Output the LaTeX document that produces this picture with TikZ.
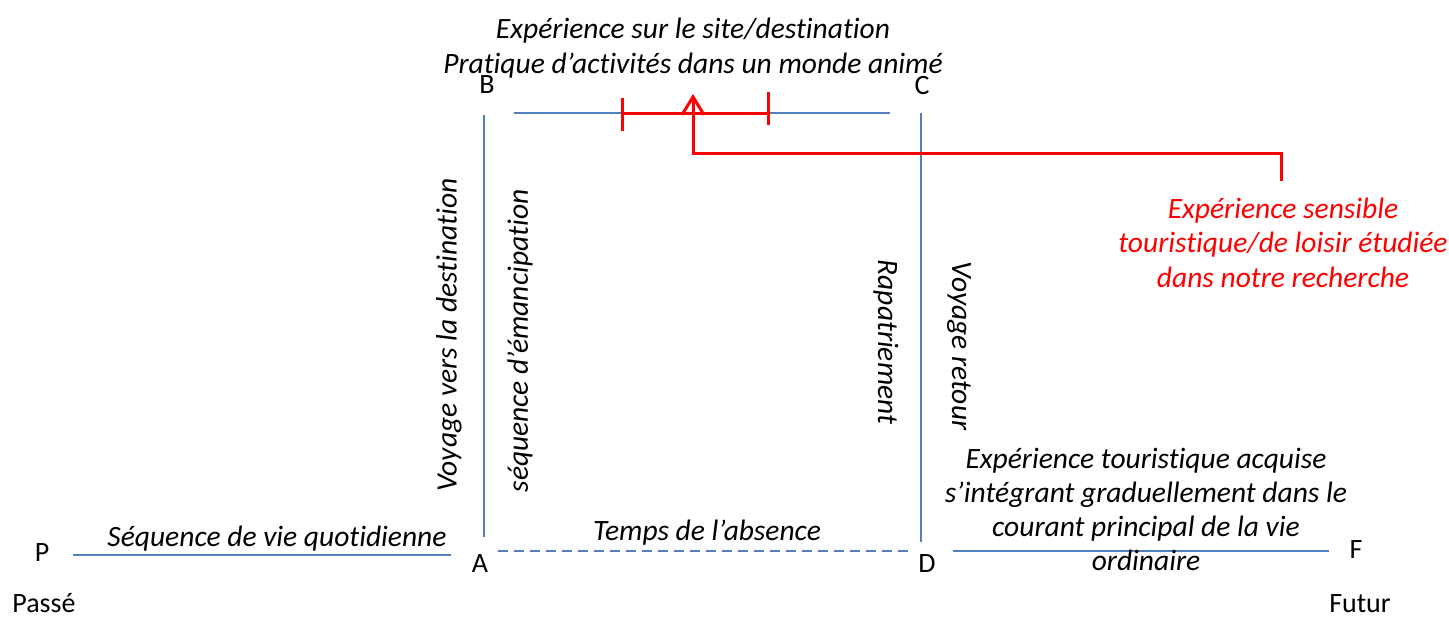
\documentclass[tikz,border=0pt]{standalone}
\usepackage{fontspec}
\setmainfont{Carlito}[Ligatures=NoCommon]
\usetikzlibrary{arrows.meta}
\definecolor{axisblue}{RGB}{79,129,189}
\definecolor{markred}{RGB}{255,0,0}
\tikzset{
  axis/.style={draw=axisblue, line width=2pt},
  lbl/.style={font=\fontsize{28}{34}\selectfont, inner sep=0pt, anchor=base},
  itl/.style={font=\fontsize{29.5}{34.5}\selectfont\itshape, inner sep=0pt, align=center},
  redtxt/.style={itl, text=markred},
  redline/.style={draw=markred, line width=3pt},
}
\begin{document}
\begin{tikzpicture}[x=1pt,y=-1pt]
\useasboundingbox (0,0) rectangle (1449,619);

% point labels
\node[lbl] (P) at (42,561) {P};
\node[lbl] (A) at (480,572) {A};
\node[lbl] (B) at (487,93) {B};
\node[lbl] (C) at (922,94) {C};
\node[lbl] (D) at (927,572) {D};
\node[lbl] (F) at (1356,558) {F};
\node[lbl] (past) at (44,612) {Passé};
\node[lbl] (fut) at (1360,612) {Futur};

% line end points
\coordinate (pa1) at (73,555);  \coordinate (pa2) at (451,555);
\coordinate (ad1) at (498,551); \coordinate (ad2) at (908,551);
\coordinate (df1) at (953,551); \coordinate (df2) at (1329,551);
\coordinate (ab1) at (484,537); \coordinate (ab2) at (484,115);
\coordinate (bc1) at (514,113); \coordinate (bc2) at (890,113);
\coordinate (cd1) at (921,113); \coordinate (cd2) at (921,542);

\draw[axis] (pa1) -- (pa2);
\draw[axis, dash pattern=on 10pt off 6pt] (ad1) -- (ad2);
\draw[axis] (df1) -- (df2);
\draw[axis] (ab1) -- (ab2);
\draw[axis] (bc1) -- (bc2);
\draw[axis] (cd1) -- (cd2);

% sequence labels (anchor base = baseline of the last line)
\node[itl, anchor=base] (quot) at (277,546) {Séquence de vie quotidienne};
\node[itl, anchor=base] (abs) at (707,540) {Temps de l’absence};
\node[itl, anchor=base] (site) at (693,73) {Expérience sur le site/destination\\Pratique d’activités dans un monde animé};
\node[itl, anchor=base, font=\fontsize{29.5}{34}\selectfont\itshape] (acq) at (1146,570) {Expérience touristique acquise\\s’intégrant graduellement dans le\\courant principal de la vie\\ordinaire};

\node[itl, rotate=90] (aller) at (449,335) {Voyage vers la destination};
\node[itl, rotate=90] (emanc) at (520,341) {séquence d’émancipation};
\node[itl, rotate=-90] (rapat) at (886,342) {Rapatriement};
\node[itl, rotate=-90] (retour) at (959,346) {Voyage retour};

% studied experience marker
\coordinate (r1) at (622,113); \coordinate (r2) at (768,113);
\draw[redline] (r1) -- (r2);
\draw[redline] (622,98) -- (622,131);
\draw[redline] (768,92) -- (768,125);

\node[redtxt, anchor=base] (sens) at (1283,287) {Expérience sensible\\touristique/de loisir étudiée\\dans notre recherche};
\coordinate (tip) at (693,94);
\coordinate (k1) at (693,153);
\coordinate (k2) at (1281,153);
\coordinate (k3) at (1281,181);
\draw[redline, -{Straight Barb[length=18pt,width=22pt,line width=3pt]}] (k3) -- (k2) -- (k1) -- (tip);
\end{tikzpicture}
\end{document}
